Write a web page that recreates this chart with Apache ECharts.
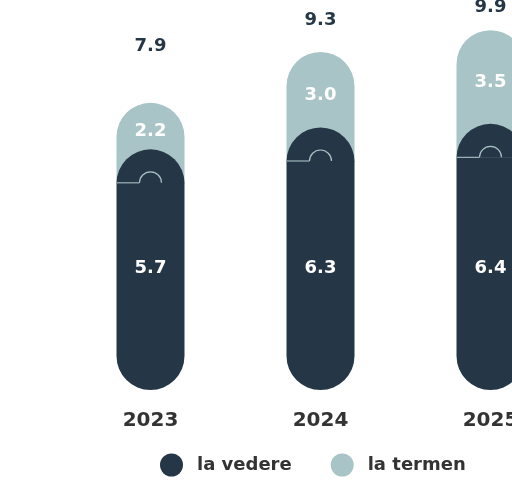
<!DOCTYPE html>
<html>
<head>
<meta charset="utf-8">
<script src="https://cdn.jsdelivr.net/npm/echarts@6/dist/echarts.min.js"></script>
<style>
  html, body { margin: 0; padding: 0; background: #ffffff; overflow: hidden; }
  #chart { width: 576px; height: 485px; }
</style>
</head>
<body>
<div id="chart"></div>
<script>
// Deposits by year: at sight ("la vedere") and term ("la termen")
const years = ['2023', '2024', '2025'];
const laVedere = [5.7, 6.3, 6.4];
const laTermen = [2.2, 3.0, 3.5];
const totals = [7.9, 9.3, 9.9];

const DARK = '#253746';
const LIGHT = '#a9c4c6';
const FONT = 'DejaVu Sans';
const HALF = 34;              // half of the bar width, also the cap radius
const totalLift = [48, 23, 14]; // distance of each total label above its stack

const chart = echarts.init(document.getElementById('chart'), null, { renderer: 'canvas' });

chart.setOption({
  animation: false,
  grid: { left: 65.5, right: 0.5, top: 26.5, bottom: 95, containLabel: false },
  xAxis: {
    type: 'category',
    data: years,
    axisLine: { show: false },
    axisTick: { show: false },
    axisLabel: {
      margin: 21,
      color: '#333333',
      fontFamily: FONT,
      fontWeight: 'bold',
      fontSize: 20
    }
  },
  yAxis: {
    type: 'value',
    min: 0,
    max: 10,
    show: false,
    splitLine: { show: false }
  },
  legend: {
    left: 155,
    top: 448.5,
    itemWidth: 23,
    itemHeight: 23,
    itemGap: 39,
    icon: 'circle',
    textStyle: {
      color: '#333333',
      fontFamily: FONT,
      fontWeight: 'bold',
      fontSize: 18,
      padding: [0, 0, 0, 9]
    },
    data: ['la vedere', 'la termen']
  },
  series: [
    {
      name: 'la vedere',
      type: 'bar',
      stack: 'total',
      barWidth: 68,
      data: laVedere,
      itemStyle: { color: DARK, borderRadius: [0, 0, HALF, HALF] },
      label: {
        show: true,
        position: 'insideBottom',
        distance: 113,
        color: '#ffffff',
        fontFamily: FONT,
        fontWeight: 'bold',
        fontSize: 18,
        formatter: p => p.value.toFixed(1)
      },
      z: 2
    },
    {
      name: 'la termen',
      type: 'bar',
      stack: 'total',
      barWidth: 68,
      data: laTermen,
      itemStyle: { color: LIGHT, borderRadius: [HALF, HALF, 0, 0] },
      label: {
        show: true,
        position: 'inside',
        offset: [0, -11.5],
        color: '#ffffff',
        fontFamily: FONT,
        fontWeight: 'bold',
        fontSize: 18,
        formatter: p => p.value.toFixed(1)
      },
      z: 2
    },
    {
      // rounded cap on top of each dark bar, with the seam ornament and the total
      name: 'cap',
      type: 'custom',
      data: years.map((y, i) => [i, laVedere[i], totals[i]]),
      encode: { x: 0, y: 1 },
      z: 5,
      silent: true,
      legendHoverLink: false,
      renderItem: function (params, api) {
        const i = api.value(0);
        const top = api.coord([i, api.value(1)]);
        const totalTop = api.coord([i, api.value(2)]);
        const cx = top[0];
        const cy = top[1];
        const r = 11;
        return {
          type: 'group',
          children: [
            {
              type: 'sector',
              shape: { cx: cx, cy: cy + 0.5, r0: 0, r: HALF, startAngle: Math.PI, endAngle: Math.PI * 2 },
              style: { fill: DARK }
            },
            {
              type: 'line',
              shape: { x1: cx - HALF, y1: cy, x2: cx - r, y2: cy },
              style: { stroke: '#9fb6bb', lineWidth: 1.2 }
            },
            {
              type: 'arc',
              shape: { cx: cx, cy: cy, r: r, startAngle: Math.PI, endAngle: Math.PI * 2 },
              style: { stroke: '#a9c4c6', lineWidth: 1.2, fill: null }
            },
            {
              type: 'text',
              x: cx,
              y: totalTop[1] - totalLift[i],
              style: {
                text: api.value(2).toFixed(1),
                fill: DARK,
                font: 'bold 18px "DejaVu Sans"',
                align: 'center',
                verticalAlign: 'bottom'
              }
            }
          ]
        };
      }
    }
  ]
});
</script>
</body>
</html>
